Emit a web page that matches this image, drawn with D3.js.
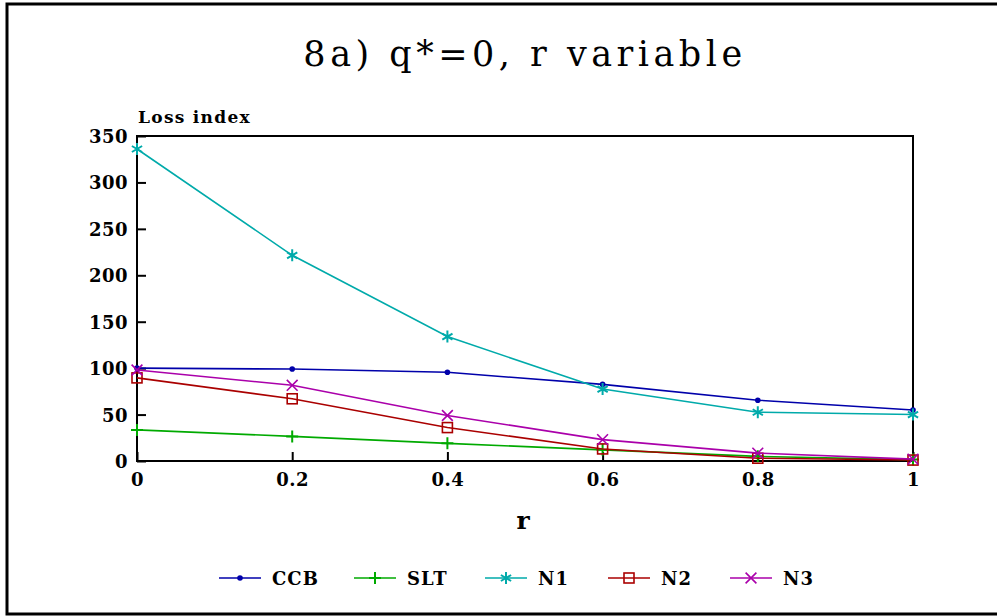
<!DOCTYPE html>
<html>
<head>
<meta charset="utf-8">
<script src="https://cdn.jsdelivr.net/npm/d3@7"></script>
<style>
  html, body { margin: 0; padding: 0; background: #fff; }
  svg { display: block; }
  text { font-family: "DejaVu Serif", "Liberation Serif", serif; }
</style>
</head>
<body>
<svg id="chart" width="997" height="616"></svg>
<script>
// r values on the x axis
const rValues = [0, 0.2, 0.4, 0.6, 0.8, 1];
const xTicks = [0, 0.2, 0.4, 0.6, 0.8, 1];
const yTicks = [0, 50, 100, 150, 200, 250, 300, 350];

// Loss index per series
const ccb = [100, 99, 95.5, 82.5, 65.5, 55];
const slt = [33.5, 26.5, 19, 12, 5, 1.5];
const n1  = [336, 221.5, 134, 77.5, 52.5, 50];
const n2  = [89.5, 67, 36, 13, 3, 1];
const n3  = [98, 81.5, 49, 23, 8.5, 2];

const seriesNames = ["CCB", "SLT", "N1", "N2", "N3"];
const seriesValues = [ccb, slt, n1, n2, n3];
const seriesColors = ["#0000aa", "#00aa00", "#00aaaa", "#aa0000", "#aa00aa"];
const seriesMarkers = ["dot", "plus", "star", "square", "cross"];

const FONT = "DejaVu Serif, Liberation Serif, serif";
const svg = d3.select("#chart");

// outer frame
svg.append("rect")
  .attr("x", 7).attr("y", 4).attr("width", 1000).attr("height", 610)
  .attr("fill", "none").attr("stroke", "#000").attr("stroke-width", 3);

const plot = { left: 137, right: 913, top: 136, bottom: 461 };

const x = d3.scaleLinear().domain([0, 1]).range([plot.left, plot.right]);
const y = d3.scaleLinear().domain([0, 350]).range([plot.bottom, plot.top]);

// title
svg.append("text")
  .attr("x", 525).attr("y", 66)
  .attr("text-anchor", "middle")
  .attr("font-size", 35)
  .attr("letter-spacing", 4.5)
  .text("8a) q*=0, r variable");

// axis labels
svg.append("text")
  .attr("x", 138).attr("y", 123)
  .attr("font-size", 17).attr("font-weight", "bold")
  .attr("letter-spacing", 1.3)
  .text("Loss index");

svg.append("text")
  .attr("x", 523).attr("y", 529)
  .attr("text-anchor", "middle")
  .attr("font-size", 25).attr("font-weight", "bold")
  .text("r");

// y axis: ticks drawn inward
const yAxis = d3.axisLeft(y).tickValues(yTicks).tickSize(-9).tickPadding(9).tickFormat(d3.format("d"));
const gy = svg.append("g").attr("transform", `translate(${plot.left},0)`).call(yAxis);
gy.select(".domain").remove();
gy.selectAll(".tick line").attr("stroke", "#000").attr("stroke-width", 2);
gy.selectAll(".tick text")
  .attr("font-family", FONT)
  .attr("font-size", 18).attr("font-weight", "bold").attr("fill", "#000")
  .attr("letter-spacing", 0.5)
  .attr("dy", "0.36em");

// x axis: ticks drawn inward
const xAxis = d3.axisBottom(x).tickValues(xTicks).tickSize(-9).tickPadding(12)
  .tickFormat(d => d === 0 ? "0" : d === 1 ? "1" : d3.format(".1f")(d));
const gx = svg.append("g").attr("transform", `translate(0,${plot.bottom})`).call(xAxis);
gx.select(".domain").remove();
gx.selectAll(".tick line").attr("stroke", "#000").attr("stroke-width", 2);
gx.selectAll(".tick text")
  .attr("font-family", FONT)
  .attr("font-size", 18).attr("font-weight", "bold").attr("fill", "#000")
  .attr("letter-spacing", 0.5);

// plot box
svg.append("rect")
  .attr("x", plot.left).attr("y", plot.top)
  .attr("width", plot.right - plot.left).attr("height", plot.bottom - plot.top)
  .attr("fill", "none").attr("stroke", "#000").attr("stroke-width", 2);

function drawMarker(g, type, cx, cy, color) {
  const s = 6;
  if (type === "dot") {
    g.append("circle").attr("cx", cx).attr("cy", cy).attr("r", 2.8).attr("fill", color);
  } else if (type === "plus") {
    g.append("path").attr("d", `M${cx - s},${cy}H${cx + s}M${cx},${cy - s}V${cy + s}`)
      .attr("stroke", color).attr("stroke-width", 2).attr("fill", "none");
  } else if (type === "star") {
    const d = s * 0.85;
    g.append("path").attr("d",
      `M${cx},${cy - s}V${cy + s}M${cx - d},${cy - d / 1.7}L${cx + d},${cy + d / 1.7}M${cx - d},${cy + d / 1.7}L${cx + d},${cy - d / 1.7}`)
      .attr("stroke", color).attr("stroke-width", 2).attr("fill", "none");
  } else if (type === "square") {
    g.append("rect").attr("x", cx - 5).attr("y", cy - 5).attr("width", 10).attr("height", 10)
      .attr("stroke", color).attr("stroke-width", 1.6).attr("fill", "none");
  } else if (type === "cross") {
    const d = s * 0.9;
    g.append("path").attr("d", `M${cx - d},${cy - d}L${cx + d},${cy + d}M${cx - d},${cy + d}L${cx + d},${cy - d}`)
      .attr("stroke", color).attr("stroke-width", 1.6).attr("fill", "none");
  }
}

const line = d3.line().x((d, i) => x(rValues[i])).y(d => y(d));

seriesValues.forEach((vals, k) => {
  const g = svg.append("g");
  g.append("path").datum(vals).attr("d", line)
    .attr("fill", "none").attr("stroke", seriesColors[k]).attr("stroke-width", 1.6);
  vals.forEach((v, i) => drawMarker(g, seriesMarkers[k], x(rValues[i]), y(v), seriesColors[k]));
});

// legend
const legendX = [219, 354, 485, 608, 730];
const legendY = 578;
seriesNames.forEach((name, k) => {
  const g = svg.append("g");
  const x0 = legendX[k];
  g.append("line").attr("x1", x0).attr("x2", x0 + 42).attr("y1", legendY).attr("y2", legendY)
    .attr("stroke", seriesColors[k]).attr("stroke-width", 1.6);
  drawMarker(g, seriesMarkers[k], x0 + 21, legendY, seriesColors[k]);
  g.append("text").attr("x", x0 + 53).attr("y", legendY + 7)
    .attr("font-size", 18).attr("font-weight", "bold").attr("letter-spacing", 1).text(name);
});
</script>
</body>
</html>
